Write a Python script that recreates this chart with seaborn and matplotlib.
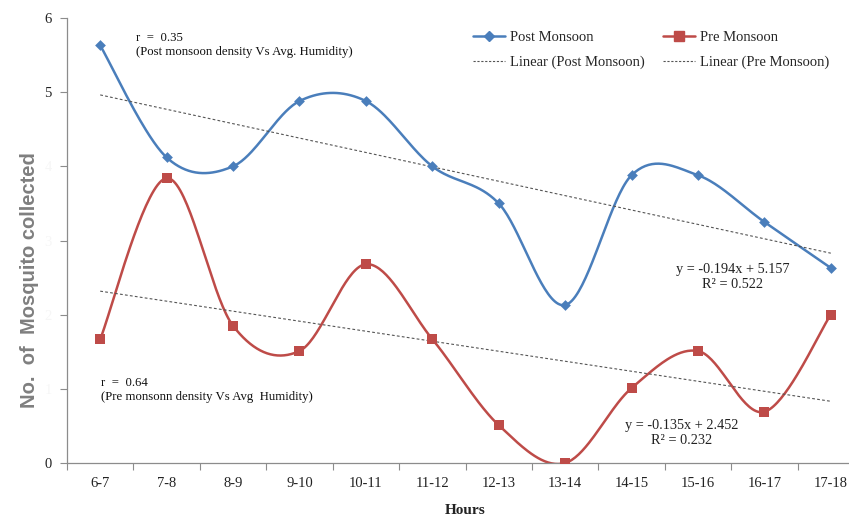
import numpy as np
import pandas as pd
import matplotlib
matplotlib.use("Agg")
import matplotlib.pyplot as plt
from matplotlib.lines import Line2D
import seaborn as sns

hours = ["6-7", "7-8", "8-9", "9-10", "10-11", "11-12",
         "12-13", "13-14", "14-15", "15-16", "16-17", "17-18"]
post_monsoon = [5.63, 4.12, 4.00, 4.88, 4.88, 4.00, 3.50, 2.13, 3.88, 3.88, 3.25, 2.63]
pre_monsoon = [1.67, 3.84, 1.85, 1.51, 2.68, 1.67, 0.51, 0.00, 1.01, 1.51, 0.69, 2.00]
post_fit = (-0.194, 5.157, 0.522)
pre_fit = (-0.135, 2.452, 0.232)
y_ticks = [0, 1, 2, 3, 4, 5, 6]

BLUE = "#4A7EBB"
RED = "#BE4B48"
AXIS = "#8C8C8C"
SERIF = ["Liberation Serif", "DejaVu Serif"]

sns.set_theme(style="white")
plt.rcParams["font.family"] = SERIF

x = np.arange(1, len(hours) + 1)
df = pd.DataFrame({"x": x, "Post Monsoon": post_monsoon, "Pre Monsoon": pre_monsoon})


def smooth(xs, ys, n=40):
    """Uniform Catmull-Rom spline through the points (spreadsheet-style smoothed line)."""
    pts = np.column_stack([xs, ys]).astype(float)
    ext = np.vstack([pts[0], pts, pts[-1]])
    out = []
    t = np.linspace(0, 1, n)[:, None]
    for i in range(1, len(ext) - 2):
        p0, p1, p2, p3 = ext[i - 1], ext[i], ext[i + 1], ext[i + 2]
        c1 = p1 + (p2 - p0) / 6
        c2 = p2 - (p3 - p1) / 6
        seg = ((1 - t) ** 3) * p1 + 3 * ((1 - t) ** 2) * t * c1 + 3 * (1 - t) * t ** 2 * c2 + t ** 3 * p2
        out.append(seg if i == 1 else seg[1:])
    out = np.vstack(out)
    return out[:, 0], out[:, 1]


fig = plt.figure(figsize=(8.49, 5.16), dpi=100)
ax = fig.add_axes([67 / 849, 1 - 463 / 516, (864 - 67) / 849, (463 - 18) / 516])

# smoothed series lines
for col, color in [("Post Monsoon", BLUE), ("Pre Monsoon", RED)]:
    sx, sy = smooth(df["x"], df[col])
    sns.lineplot(x=sx, y=sy, ax=ax, color=color, linewidth=1.8, sort=False,
                 estimator=None, legend=False)

# markers
sns.scatterplot(data=df, x="x", y="Post Monsoon", ax=ax, marker="D", s=30,
                color=BLUE, edgecolor=BLUE, linewidth=0, zorder=5, legend=False)
sns.scatterplot(data=df, x="x", y="Pre Monsoon", ax=ax, marker="s", s=55,
                color=RED, edgecolor=RED, linewidth=0, zorder=5, legend=False)

# linear trend lines
for (m, b, _r2) in (post_fit, pre_fit):
    ax.plot(x, m * x + b, color="#555555", linewidth=0.8, linestyle=(0, (2.5, 2)), zorder=3)

ax.set_xlim(0.5, len(hours) + 0.5)
ax.set_ylim(0, 6)
ax.set_xticks(np.arange(0.5, len(hours) + 1.0, 1.0))
ax.set_xticklabels([])
ax.set_xticks(x, minor=True)
ax.set_xticklabels(hours, minor=True)
ax.tick_params(axis="x", which="major", length=5, width=0.8, color=AXIS, direction="out", bottom=True)
ax.tick_params(axis="x", which="minor", length=0, pad=10, labelsize=10.5, labelcolor="#222222")
ax.set_yticks(y_ticks)
ax.set_yticklabels([str(v) for v in y_ticks])
for lab, v in zip(ax.get_yticklabels(), y_ticks):
    lab.set_color("#222222" if v in (0, 5, 6) else "#f6f6f6")
ax.tick_params(axis="y", length=5, width=0.8, color=AXIS, direction="out", left=True,
               labelsize=10.5, pad=6)

for side in ("top", "right"):
    ax.spines[side].set_visible(False)
for side in ("left", "bottom"):
    ax.spines[side].set_color(AXIS)
    ax.spines[side].set_linewidth(0.9)

ax.set_xlabel("")
ax.set_ylabel("")
fig.text(30 / 849, 1 - 280 / 516, "No.  of  Mosquito collected", rotation=90,
         ha="center", va="center", fontsize=14.5, fontweight="bold", color="#7F7F7F",
         family=["Liberation Sans", "DejaVu Sans"])
fig.text(465 / 849, 1 - 510 / 516, "Hours", ha="center", va="center",
         fontsize=11, fontweight="bold", color="#222222")

# annotations
ann = dict(fontsize=9.2, color="#111111", va="center")
fig.text(136 / 849, 1 - 38 / 516, "r  =  0.35", ha="left", **ann)
fig.text(136 / 849, 1 - 52 / 516, "(Post monsoon density Vs Avg. Humidity)", ha="left", **ann)
fig.text(101 / 849, 1 - 383 / 516, "r  =  0.64", ha="left", **ann)
fig.text(101 / 849, 1 - 397 / 516, "(Pre monsonn density Vs Avg  Humidity)", ha="left", **ann)

eq = dict(fontsize=10.3, color="#222222", ha="center", va="center")
m, b, r2 = post_fit
fig.text(733 / 849, 1 - 270 / 516, f"y = {m:.3f}x + {b:.3f}", **eq)
fig.text(733 / 849, 1 - 285 / 516, f"R² = {r2:.3f}", **eq)
m, b, r2 = pre_fit
fig.text(682 / 849, 1 - 425 / 516, f"y = {m:.3f}x + {b:.3f}", **eq)
fig.text(682 / 849, 1 - 440 / 516, f"R² = {r2:.3f}", **eq)

handles = [
    Line2D([], [], color=BLUE, marker="D", markersize=5, linewidth=1.8),
    Line2D([], [], color="#555555", linestyle=(0, (2, 1.5)), linewidth=0.8),
    Line2D([], [], color=RED, marker="s", markersize=7, linewidth=1.8),
    Line2D([], [], color="#555555", linestyle=(0, (2, 1.5)), linewidth=0.8),
]
labels = ["Post Monsoon", "Linear (Post Monsoon)", "Pre Monsoon", "Linear (Pre Monsoon)"]
fig.legend(handles, labels, ncol=2, frameon=False, fontsize=10.5,
           loc="center left", bbox_to_anchor=(460 / 849, 1 - 50 / 516),
           handlelength=2.2, handletextpad=0.3, columnspacing=1.3, labelspacing=0.75)

fig.savefig("out.png", dpi=100)
